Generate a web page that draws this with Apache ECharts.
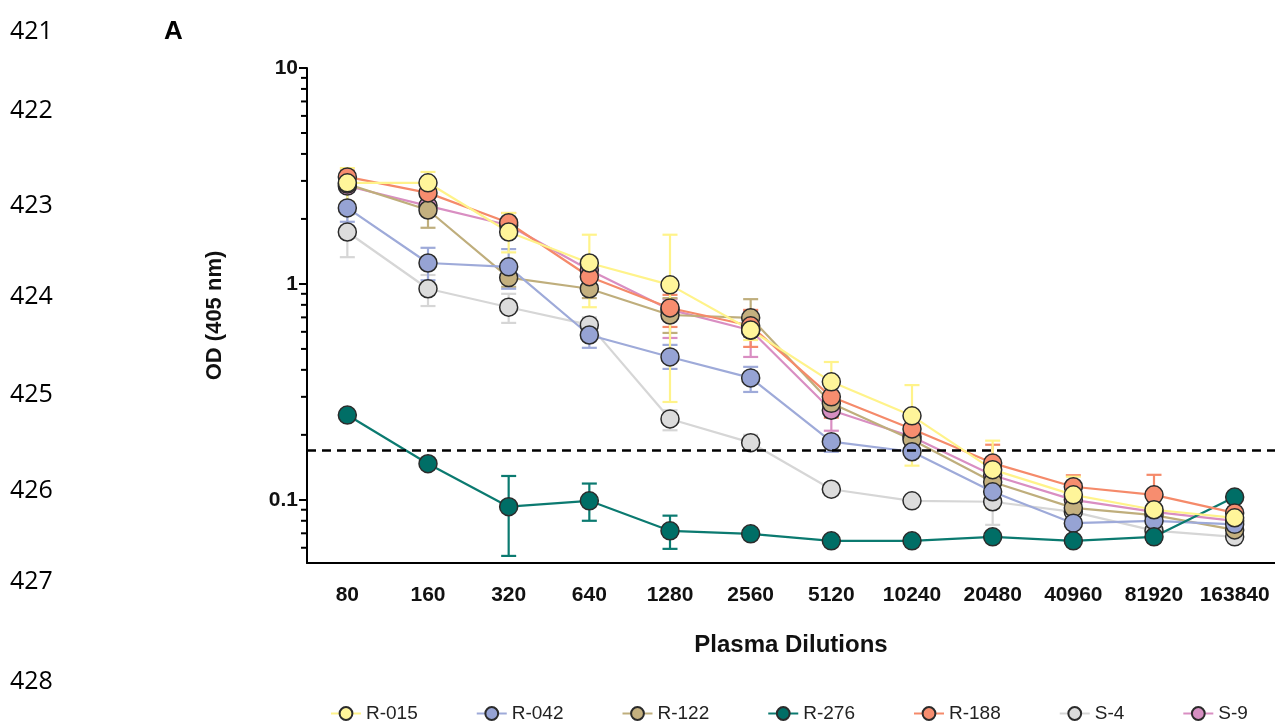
<!DOCTYPE html>
<html>
<head>
<meta charset="utf-8">
<script src="https://cdn.jsdelivr.net/npm/echarts@6/dist/echarts.min.js"></script>
<style>
  html, body { margin: 0; padding: 0; background: #fff; }
  #main { width: 1275px; height: 727px; }
</style>
</head>
<body>
<div id="main"></div>
<script>
// x categories (plasma dilutions)
const dilutions = ['80', '160', '320', '640', '1280', '2560', '5120', '10240', '20480', '40960', '81920', '163840'];

// mean OD values
const r015 = [2.94, 2.94, 1.74, 1.25, 0.99, 0.612, 0.352, 0.245, 0.138, 0.1055, 0.090, 0.0826];
const r042 = [2.25, 1.25, 1.20, 0.58, 0.459, 0.367, 0.186, 0.167, 0.109, 0.078, 0.080, 0.077];
const r122 = [2.90, 2.20, 1.07, 0.95, 0.718, 0.697, 0.28, 0.19, 0.121, 0.0918, 0.085, 0.0726];
const r276 = [0.247, 0.147, 0.093, 0.099, 0.0719, 0.0696, 0.0646, 0.0646, 0.0674, 0.0646, 0.0674, 0.103];
const r188 = [3.13, 2.64, 1.92, 1.08, 0.774, 0.64, 0.30, 0.213, 0.148, 0.115, 0.1055, 0.087];
const s4 = [1.74, 0.95, 0.78, 0.646, 0.237, 0.184, 0.112, 0.099, 0.098, 0.088, 0.072, 0.0674];
const s9 = [2.84, 2.30, 1.87, 1.16, 0.76, 0.61, 0.26, 0.196, 0.13, 0.10, 0.088, 0.080];

// error bars [low, high]
const r015Err = [[2.40, 3.44], [2.6, 3.30], [1.40, 2.13], [0.78, 1.69], [0.284, 1.69], [0.55, 0.68], [0.284, 0.435], [0.144, 0.34], [0.092, 0.188], [0.082, 0.128], [0.071, 0.10], [0.077, 0.088]];
const r042Err = [[1.94, 2.67], [1.04, 1.47], [0.95, 1.45], [0.506, 0.64], [0.404, 0.522], [0.316, 0.413], [0.167, 0.195], [0.16, 0.175], [0.10, 0.12], [0.075, 0.082], [0.076, 0.085], [0.074, 0.080]];
const r122Err = [[2.7, 3.1], [1.82, 2.6], [0.97, 1.2], [0.86, 1.05], [0.593, 0.86], [0.57, 0.85], [0.25, 0.31], [0.17, 0.20], [0.11, 0.13], [0.085, 0.10], [0.08, 0.09], [0.07, 0.076]];
const r276Err = [null, null, [0.055, 0.129], [0.08, 0.119], [0.0593, 0.0845], null, null, null, null, null, [0.064, 0.071], null];
const r188Err = [[2.9, 3.35], [2.4, 2.9], [1.7, 2.13], [0.95, 1.2], [0.632, 0.89], [0.511, 0.758], [0.24, 0.36], [0.18, 0.25], [0.13, 0.18], [0.10, 0.13], [0.085, 0.1306], [0.082, 0.092]];
const s4Err = [[1.33, 2.1], [0.79, 1.1], [0.66, 0.9], [0.58, 0.7], [0.21, 0.26], [0.17, 0.20], [0.105, 0.118], [0.095, 0.103], [0.0766, 0.105], [0.085, 0.092], [0.07, 0.074], [0.065, 0.07]];
const s9Err = [[2.7, 3.0], [2.1, 2.5], [1.75, 2.0], [1.05, 1.28], [0.562, 0.85], [0.459, 0.75], [0.209, 0.30], [0.18, 0.21], [0.12, 0.14], [0.095, 0.105], [0.085, 0.092], [0.077, 0.083]];

// cutoff (dashed line)
const cutoff = 0.17;

// y tick values
const majorTicks = [0.1, 1, 10];
const minorTicks = [0.06, 0.07, 0.08, 0.09, 0.2, 0.3, 0.4, 0.5, 0.6, 0.7, 0.8, 0.9, 2, 3, 4, 5, 6, 7, 8, 9];

// manuscript line numbers on the left margin
const lineNumbers = ['421', '422', '423', '424', '425', '426', '427', '428'];
const lineNumberY = [33, 112, 207, 298, 396, 492, 583, 683];

const legendOrder = ['R-015', 'R-042', 'R-122', 'R-276', 'R-188', 'S-4', 'S-9'];

// draw order: bottom first
const groups = [
  { name: 'S-4', data: s4, err: s4Err, fill: '#dcdcdc', line: '#d6d6d6' },
  { name: 'S-9', data: s9, err: s9Err, fill: '#d68fc2', line: '#d98ec2' },
  { name: 'R-122', data: r122, err: r122Err, fill: '#c4b07f', line: '#bfae7c' },
  { name: 'R-042', data: r042, err: r042Err, fill: '#96a3d4', line: '#9eaad9' },
  { name: 'R-276', data: r276, err: r276Err, fill: '#006e66', line: '#0b7a70' },
  { name: 'R-188', data: r188, err: r188Err, fill: '#f78d6f', line: '#f58a6a' },
  { name: 'R-015', data: r015, err: r015Err, fill: '#fff59a', line: '#fff38a' }
];

const FONT = 'Liberation Sans, Arial, sans-serif';

function errorBarSeries(g) {
  const data = [];
  g.err.forEach((e, i) => {
    if (e) data.push([i, e[0], e[1]]);
  });
  return {
    type: 'custom',
    name: g.name + ' err',
    z: 1,
    silent: true,
    encode: { x: 0, y: [1, 2] },
    data: data,
    renderItem: function (params, api) {
      const lo = api.coord([api.value(0), api.value(1)]);
      const hi = api.coord([api.value(0), api.value(2)]);
      const w = 7.5;
      const style = { stroke: g.line, lineWidth: 2.2 };
      return {
        type: 'group',
        children: [
          { type: 'line', shape: { x1: lo[0], y1: lo[1], x2: hi[0], y2: hi[1] }, style: style },
          { type: 'line', shape: { x1: hi[0] - w, y1: hi[1], x2: hi[0] + w, y2: hi[1] }, style: style },
          { type: 'line', shape: { x1: lo[0] - w, y1: lo[1], x2: lo[0] + w, y2: lo[1] }, style: style }
        ]
      };
    }
  };
}

const series = [];
groups.forEach(g => series.push(errorBarSeries(g)));
groups.forEach(g => {
  const s = {
    type: 'line',
    name: g.name,
    data: g.data,
    z: 3,
    symbol: 'circle',
    symbolSize: 18,
    lineStyle: { color: g.line, width: 2.2 },
    itemStyle: { color: g.fill, borderColor: '#2b2b2b', borderWidth: 1.5 },
    emphasis: { disabled: true }
  };
  if (g.name === 'R-276') {
    s.markLine = {
      silent: true,
      symbol: 'none',
      label: { show: false },
      lineStyle: { color: '#000', width: 2.5, type: [9, 6] },
      data: [{ yAxis: cutoff }]
    };
  }
  series.push(s);
});

// minor ticks of the log axis, placed through the y scale
series.push({
  type: 'custom',
  name: 'minor ticks',
  silent: true,
  clip: false,
  z: 5,
  data: minorTicks.map(v => [0, v]),
  encode: { x: 0, y: 1 },
  renderItem: function (params, api) {
    const p = api.coord([0, api.value(1)]);
    const band = api.size([1, 0])[0];
    const x0 = p[0] - band / 2;
    return {
      type: 'line',
      shape: { x1: x0 - 6, y1: p[1], x2: x0, y2: p[1] },
      style: { stroke: '#000', lineWidth: 2 }
    };
  }
});

const graphics = lineNumbers.map((t, i) => ({
  type: 'text',
  left: 10,
  top: lineNumberY[i] - 14,
  style: { text: t, fill: '#000', font: '25px "Open Sans", sans-serif' }
}));
graphics.push({
  type: 'text',
  left: 164,
  top: 19,
  style: { text: 'A', fill: '#000', font: 'bold 26px ' + FONT }
});

const chart = echarts.init(document.getElementById('main'));
chart.setOption({
  animation: false,
  backgroundColor: '#fff',
  textStyle: { fontFamily: FONT },
  grid: { left: 307, right: 0, top: 68, bottom: 164 },
  graphic: graphics,
  legend: {
    data: legendOrder,
    left: 325,
    top: 699,
    itemWidth: 30,
    itemHeight: 16,
    itemGap: 58,
    textStyle: { fontSize: 19, color: '#222', fontFamily: FONT }
  },
  xAxis: {
    type: 'category',
    data: dilutions,
    name: 'Plasma Dilutions',
    nameLocation: 'middle',
    nameGap: 70,
    nameTextStyle: { fontSize: 24, fontWeight: 'bold', color: '#111' },
    axisLine: { lineStyle: { color: '#000', width: 2 } },
    axisTick: { alignWithLabel: true, length: 8, lineStyle: { color: '#000', width: 2 } },
    axisLabel: { fontSize: 21, fontWeight: 'bold', color: '#111', margin: 22, interval: 0 },
    splitLine: { show: false }
  },
  yAxis: {
    type: 'log',
    logBase: 10,
    min: 0.051,
    max: 10,
    name: 'OD (405 nm)',
    nameLocation: 'middle',
    nameGap: 81,
    nameTextStyle: { fontSize: 22, fontWeight: 'bold', color: '#111' },
    axisLine: { show: true, lineStyle: { color: '#000', width: 2 } },
    axisTick: { show: true, length: 8, customValues: majorTicks, lineStyle: { color: '#000', width: 2 } },
    axisLabel: { fontSize: 21, fontWeight: 'bold', color: '#111', margin: 9, customValues: majorTicks },
    splitLine: { show: false }
  },
  series: series
});
</script>
</body>
</html>
